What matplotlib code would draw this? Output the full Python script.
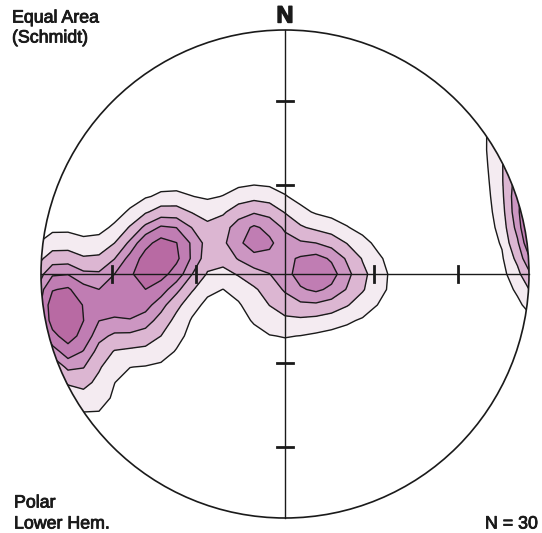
import numpy as np
import matplotlib.pyplot as plt
import matplotlib.patheffects as pe
from matplotlib.patches import Circle

# pole orientations (trend, plunge) in degrees
trends = [260, 258, 262, 257, 261, 264, 259,
          262, 258, 265,
          280, 278, 282, 276, 279, 268, 263, 285,
          320, 317, 323, 319,
          84, 87, 81, 90,
          95, 190, 250, 245]
plunges = [7, 9, 6, 5, 10, 8, 12,
           24, 30, 35,
           50, 47, 52, 45, 49, 41, 36, 49,
           74, 73, 75, 75.5,
           80, 79.5, 80.5, 79,
           67, 80, 40, 7]

# contour levels (kernel density units) and their fills
levels = [0.45, 1.3, 2.4, 3.5, 5.0, 100]
fill_colors = ["#f4ebf1", "#dcb6d2", "#cc96c2", "#c07db3", "#b86aa3"]

W, H = 542, 533
CX, CY, R = 285, 274, 244


def pole_vec(tr, pl):
    tr, pl = np.radians(tr), np.radians(pl)
    return np.array([np.cos(pl) * np.sin(tr), np.cos(pl) * np.cos(tr), -np.sin(pl)])


# density on a coarse grid of the equal-area net
n = 35
g = np.linspace(-1.08, 1.08, n)
X, Y = np.meshgrid(g, g)
r = np.clip(np.hypot(X, Y), 0, np.sqrt(2) - 1e-6)
theta = 2 * np.arcsin(r / np.sqrt(2))
az = np.arctan2(X, Y)
grid_vec = np.stack([np.sin(theta) * np.sin(az), np.sin(theta) * np.cos(az), -np.cos(theta)])

k = 48.0
dens = np.zeros_like(X)
for t, p in zip(trends, plunges):
    v = pole_vec(t, p)
    c = np.abs(np.tensordot(v, grid_vec, axes=1))
    dens += np.exp(k * (c - 1))

fig = plt.figure(figsize=(W / 100, H / 100), dpi=100)
ax = fig.add_axes([0, 0, 1, 1])
ax.set_xlim(-CX / R, (W - CX) / R)
ax.set_ylim((CY - H) / R, CY / R)
ax.axis("off")

clip = Circle((0, 0), 1, transform=ax.transData, facecolor="none", edgecolor="none")
ax.add_patch(clip)
cf = ax.contourf(X, Y, dens, levels=levels, colors=fill_colors)
cf.set_clip_path(clip)
cl = ax.contour(X, Y, dens, levels=levels[:-1], colors="#1a1a1a", linewidths=1.0)
cl.set_clip_path(clip)

ax.add_patch(Circle((0, 0), 1, facecolor="none", edgecolor="#1a1a1a", linewidth=1.2, zorder=5))
ax.plot([-1, 1], [0, 0], color="#1a1a1a", linewidth=1.0, zorder=5)
ax.plot([0, 0], [-1, 1], color="#1a1a1a", linewidth=1.0, zorder=5)

# tick marks at 30 and 60 degrees from the centre
tl = 8 / R
for deg in (30, 60):
    d = np.sqrt(2) * np.sin(np.radians(deg) / 2)
    for s in (-1, 1):
        ax.plot([s * d, s * d], [-tl, tl], color="#1a1a1a", linewidth=2, zorder=6)
        ax.plot([-tl, tl], [s * d, s * d], color="#1a1a1a", linewidth=2, zorder=6)

font = "Liberation Sans"
heavy = [pe.withStroke(linewidth=0.6, foreground="#1a1a1a")]
txt = dict(fontsize=12.8, family=font, va="center", color="#1a1a1a", path_effects=heavy)
fig.text(12 / W, 1 - 18 / H, "Equal Area", ha="left", **txt)
fig.text(12 / W, 1 - 38 / H, "(Schmidt)", ha="left", **txt)
fig.text(14 / W, 1 - 503 / H, "Polar", ha="left", **txt)
fig.text(14 / W, 1 - 524 / H, "Lower Hem.", ha="left", **txt)
fig.text(538 / W, 1 - 524 / H, "N = 30", ha="right", **txt)
fig.text(CX / W, 1 - 16 / H, "N", fontsize=17, family=font, fontweight="bold", va="center",
         ha="center", color="#1a1a1a", path_effects=[pe.withStroke(linewidth=1.0, foreground="#1a1a1a")])

fig.savefig("out.png", dpi=100)
